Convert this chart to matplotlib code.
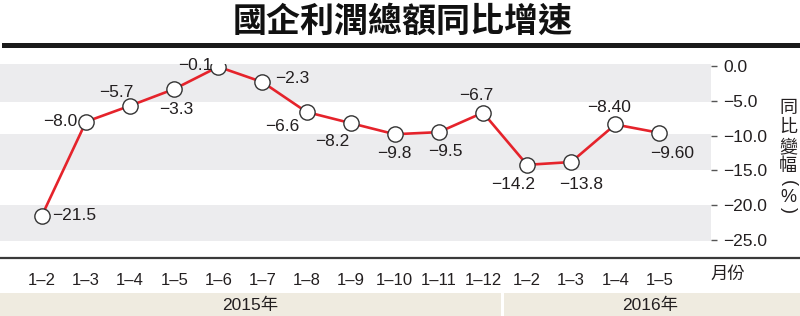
import matplotlib
matplotlib.use("Agg")
import matplotlib.pyplot as plt
from matplotlib.lines import Line2D
from matplotlib.patches import Rectangle

plt.rcParams['font.family'] = ['Liberation Sans', 'Noto Sans CJK TC']

# ---- data ----
months = ['1–2', '1–3', '1–4', '1–5', '1–6', '1–7', '1–8', '1–9', '1–10', '1–11', '1–12',
          '1–2', '1–3', '1–4', '1–5']
growth = [-21.5, -8.0, -5.7, -3.3, -0.1, -2.3, -6.6, -8.2, -9.8, -9.5, -6.7,
          -14.2, -13.8, -8.40, -9.60]
value_text = ['−21.5', '−8.0', '−5.7', '−3.3', '−0.1', '−2.3', '−6.6', '−8.2', '−9.8', '−9.5',
              '−6.7', '−14.2', '−13.8', '−8.40', '−9.60']
years = ['2015年', '2016年']
yticks = [0, -5, -10, -15, -20, -25]

# label offsets in pixels (dx, dy, ha)
offsets = [(10, 0, 'left'), (-9, 0, 'right'), (-14, 13, 'center'), (2, -20, 'center'),
           (-6, 1, 'right'), (13, 4, 'left'), (-7, -15, 'right'), (-18, -18, 'center'),
           (0, -19, 'center'), (7, -19, 'center'), (-7, 17, 'center'), (-14, -20, 'center'),
           (10, -22, 'center'), (-6, 17, 'center'), (13, -21, 'center')]

W, H = 800, 316
fig = plt.figure(figsize=(W / 100, H / 100), dpi=100)
txt = '#231f20'

# title + thick rule
fig.text(403 / W, 1 - 21 / H, '國企利潤總額同比增速', ha='center', va='center',
         fontsize=24.5, fontweight='bold', family=['Noto Sans CJK TC'], color='#111111')
fig.add_artist(Line2D([4 / W, 1], [1 - 44.5 / H] * 2, color='#1a1a1a', lw=3.6,
                      transform=fig.transFigure))

# main axes
ax = fig.add_axes([0, 1 - 258 / H, 711 / W, (258 - 64) / H])
x = list(range(len(growth)))
ax.set_xlim(-0.95, 15.17)
ax.set_ylim(-27.6, 0.3)
for lo, hi in [(-5.2, 0.3), (-15.0, -9.7), (-25.2, -20.0)]:
    ax.axhspan(lo, hi, color='#ececee', lw=0, zorder=0)

ax.plot(x, growth, color='#e5232b', lw=1.9, zorder=2)
ax.plot(x, growth, 'o', ms=11, mfc='white', mec='#333333', mew=1.0, zorder=3)

for xi, yi, s, (dx, dy, ha) in zip(x, growth, value_text, offsets):
    ax.annotate(s, (xi, yi), xytext=(dx, dy), textcoords='offset pixels',
                ha=ha, va='center', fontsize=12.5, color=txt)

for sp in ax.spines.values():
    sp.set_visible(False)
ax.yaxis.tick_right()
ax.set_yticks(yticks)
ax.set_yticklabels([f'{v:.1f}'.replace('-', '−') for v in yticks])
ax.tick_params(axis='y', direction='out', length=4, width=1, color='#555555',
               pad=5, labelsize=12.5, labelcolor=txt)
ax.set_xticks(x)
ax.set_xticklabels(months)
ax.tick_params(axis='x', length=0, pad=11, labelsize=12, labelcolor=txt)
ax.text(15.55, -28.8, '月份', ha='center', va='top', fontsize=12.5, color=txt,
        clip_on=False)

# bottom axis line across full width
fig.add_artist(Line2D([0, 1], [1 - 258 / H] * 2, color='#3a3a3a', lw=1.6,
                      transform=fig.transFigure))

# right-hand vertical label
ylab = ['同', '比', '變', '幅', '(', '%', ')']
ypos = [108, 128, 148, 167, 183, 197, 210]
for ch, yp in zip(ylab, ypos):
    rot = -90 if ch in '()' else 0
    fig.text(788 / W, 1 - yp / H, ch, ha='center', va='center', fontsize=13,
             rotation=rot, color=txt)

# year band
fig.add_artist(Rectangle((0, 0), 501 / W, 23 / H, transform=fig.transFigure,
                         color='#efebe0', lw=0))
fig.add_artist(Rectangle((504 / W, 0), 1 - 504 / W, 23 / H, transform=fig.transFigure,
                         color='#efebe0', lw=0))
fig.text(250 / W, 1 - 305 / H, years[0], ha='center', va='center', fontsize=12.5, color=txt)
fig.text(650 / W, 1 - 305 / H, years[1], ha='center', va='center', fontsize=12.5, color=txt)

fig.savefig('out.png', dpi=100)
